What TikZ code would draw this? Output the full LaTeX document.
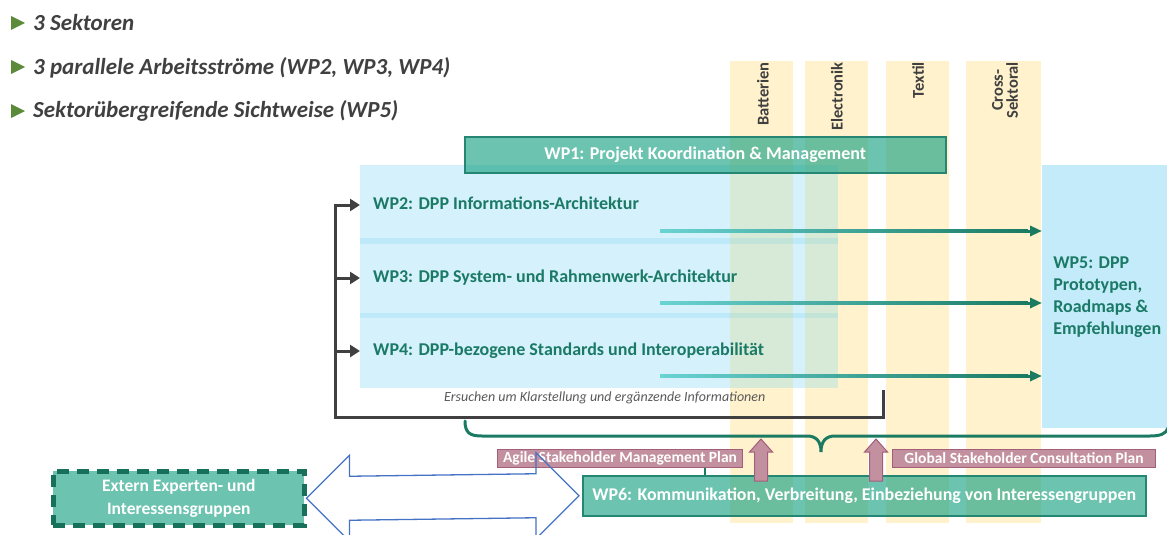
\documentclass[tikz,border=0pt]{standalone}
\usepackage{fontspec}
\setmainfont{Carlito}
\usetikzlibrary{arrows.meta,calc}
\definecolor{secY}{HTML}{FFF2CC}
\definecolor{blueA}{HTML}{D5F1FB}
\definecolor{blueBand}{HTML}{BEE9F8}
\definecolor{ovl}{HTML}{D7EAD7}
\definecolor{ovlBand}{HTML}{C2E3D8}
\definecolor{wpfiveC}{HTML}{C3EBFA}
\definecolor{tealText}{HTML}{1B7A66}
\definecolor{wpFill}{RGB}{22,161,130}
\definecolor{wpBorder}{HTML}{258673}
\definecolor{tealL}{HTML}{6AD3D3}
\definecolor{tealD}{HTML}{1A7A62}
\definecolor{pinkFill}{HTML}{C2909F}
\definecolor{pinkBorder}{HTML}{A35F79}
\definecolor{fbGray}{HTML}{404040}
\definecolor{arrBlue}{HTML}{4472C4}
\definecolor{bGreen}{HTML}{5A8A3A}
\definecolor{extFill}{HTML}{6CC3B0}
\definecolor{extBorder}{HTML}{17705A}
\definecolor{noteGray}{HTML}{595959}
\begin{document}
\begin{tikzpicture}[x=1pt,y=-1pt,
  col/.style={fill=secY, draw=none},
  collab/.style={rotate=90, anchor=east, inner sep=0pt, text=fbGray, align=center,
    font=\fontsize{16.5}{15}\selectfont\bfseries},
  bullet/.style={anchor=base west, inner sep=0pt, text=fbGray,
    font=\fontsize{23}{26}\selectfont\bfseries\itshape},
  wpbox/.style={anchor=north west, fill=blueA, draw=none, inner sep=0pt},
  wplab/.style={anchor=west, inner xsep=13pt, inner ysep=0pt, text=tealText,
    text height=12pt, text depth=3pt, font=\fontsize{18}{20}\selectfont\bfseries},
  tealbox/.style={anchor=north west, fill=wpFill, fill opacity=0.63, text opacity=1,
    draw=wpBorder, draw opacity=1, line width=1.5pt, text=white, inner sep=0pt},
  pinklab/.style={anchor=north west, fill=pinkFill, draw=pinkBorder, line width=1pt,
    text=white, inner sep=0pt, font=\fontsize{15.5}{15}\selectfont\bfseries},
  pinkarrow/.style={fill=pinkFill, draw=pinkBorder, line width=1pt},
  fb/.style={draw=fbGray, line width=3pt, line join=miter},
  fbtip/.style={-{Triangle[length=10pt,width=12pt]}},
  flow/.style={draw=tealD, line width=3pt, -{Triangle[length=12pt,width=10pt]}},
  brace/.style={draw=tealD, line width=3pt, line cap=round}
]
\useasboundingbox (0,0) rectangle (1167,535);

% bullets
\foreach \yb in {23,67,111} \fill[bGreen] (11,\yb-7) -- (25,\yb) -- (11,\yb+7) -- cycle;
\node[bullet] (b1) at (33,31) {3 Sektoren};
\node[bullet] (b2) at (33,74.5) {3 parallele Arbeitsströme (WP2, WP3, WP4)};
\node[bullet] (b3) at (33,117.5) {Sektorübergreifende Sichtweise (WP5)};

% sector columns
\fill[col] (730,61) rectangle (793,523);
\fill[col] (805,61) rectangle (868,523);
\fill[col] (886,61) rectangle (949,523);
\fill[col] (966,61) rectangle (1041,523);
\node[collab] (sBat) at (763,62) {Batterien};
\node[collab] (sEl) at (837,62) {Electronik};
\node[collab] (sTex) at (918,62) {Textil};
\node[collab] (sCross) at (1005,62) {Cross-\\Sektoral};

% work package boxes WP2-WP4
\node[wpbox, minimum width=478pt, minimum height=73pt] (wp2) at (360,165) {};
\node[wpbox, minimum width=478pt, minimum height=69pt] (wp3) at (360,244) {};
\node[wpbox, minimum width=478pt, minimum height=70pt] (wp4) at (360,318) {};
\fill[blueBand] (360,238) rectangle (838,244);
\fill[blueBand] (360,313) rectangle (838,318);
\foreach \xa/\xb in {730/793, 805/838} {
  \fill[ovl] (\xa,165) rectangle (\xb,388);
  \fill[ovlBand] (\xa,238) rectangle (\xb,244);
  \fill[ovlBand] (\xa,313) rectangle (\xb,318);
}

% WP5
\node[anchor=north west, fill=wpfiveC, minimum width=130pt, minimum height=263pt,
  inner sep=0pt, text=tealText, align=left,
  font=\fontsize{18}{22}\selectfont\bfseries] (wp5) at (1042,165)
  {WP5: DPP\\Prototypen,\\Roadmaps \&\\Empfehlungen};

% WP1
\node[tealbox, minimum width=481pt, minimum height=36pt,
  font=\fontsize{18}{20}\selectfont\bfseries] (wp1) at (464,136)
  {WP1: Projekt Koordination \& Management};

% labels
\node[wplab] (wp2lab) at (360,205) {WP2: DPP Informations-Architektur};
\node[wplab] (wp3lab) at (360,278) {WP3: DPP System- und Rahmenwerk-Architektur};
\node[wplab] (wp4lab) at (360,351) {WP4: DPP-bezogene Standards und Interoperabilität};

% flows to WP5
\coordinate (f2) at (660,231);
\coordinate (f3) at (660,303);
\coordinate (f4) at (660,376);
\foreach \f in {f2,f3,f4} {
  \draw[flow] (\f) -- (wp5.west |- \f);
  \shade[left color=tealL, right color=tealD] ($(\f)+(0,-1.5)$) rectangle ($(wp5.west |- \f)+(-14,1.5)$);
}

% feedback loop
\node[anchor=west, inner sep=0pt, text=noteGray, font=\fontsize{14}{16}\selectfont\itshape] (note) at (444,398)
  {Ersuchen um Klarstellung und ergänzende Informationen};
\coordinate (fbStart) at (883,390);
\coordinate (fbCorner) at (883,417);
\coordinate (fbLeft) at (335,417);
\draw[fb, fbtip] (fbStart) -- (fbCorner) -- (fbLeft) -- (fbLeft |- wp2lab.west) -- (wp2lab.west);
\draw[fb, fbtip] (fbLeft |- wp3lab.west) -- (wp3lab.west);
\draw[fb, fbtip] (fbLeft |- wp4lab.west) -- (wp4lab.west);

% brace
\draw[brace] (465,421) .. controls (465,433) and (470,436) .. (482,436) -- (807,436)
  .. controls (816,436) and (821,441) .. (821,452)
  .. controls (821,441) and (826,436) .. (835,436) -- (1150,436)
  .. controls (1160,436) and (1166,434) .. (1168,428);

% pink labels
\node[pinklab, minimum width=245pt, minimum height=18pt] (agile) at (497,449) {Agile Stakeholder Management Plan};
\node[pinklab, minimum width=263pt, minimum height=18pt] (global) at (892,449) {Global Stakeholder Consultation Plan};

% WP6
\node[tealbox, minimum width=563pt, minimum height=40pt,
  font=\fontsize{17.9}{20}\selectfont\bfseries] (wp6) at (582,475)
  {WP6: Kommunikation, Verbreitung, Einbeziehung von Interessengruppen};
\draw[draw=tealD, line width=2.5pt] ([xshift=85pt]agile.south) -- ([xshift=85pt]agile.south |- wp6.north);

% pink up arrows
\foreach \cx in {761,876} {
  \draw[pinkarrow] (\cx,439) -- (\cx+11.5,452) -- (\cx+6.5,452) -- (\cx+6.5,481)
    -- (\cx-6.5,481) -- (\cx-6.5,452) -- (\cx-11.5,452) -- cycle;
}

% external stakeholders
\node[anchor=north west, fill=extFill, draw=extBorder, line width=4.5pt,
  dash pattern=on 12pt off 8pt, minimum width=251pt, minimum height=54pt,
  text=white, align=center, inner sep=0pt,
  font=\fontsize{17.5}{23}\selectfont\bfseries] (ext) at (51,469)
  {Extern Experten- und\\Interessensgruppen};

% double block arrow
\draw[arrBlue, line width=1.3pt, line join=miter]
  (ext.east) -- ++(43,-43) -- ++(0,21) -- ($(wp6.west)+(-46,-22)$) -- ++(0,-21)
  -- ($(wp6.west)+(-3,0)$) -- ++(-43,43) -- ++(0,-21) -- ($(ext.east)+(43,22)$) -- ++(0,21) -- cycle;
\end{tikzpicture}
\end{document}
